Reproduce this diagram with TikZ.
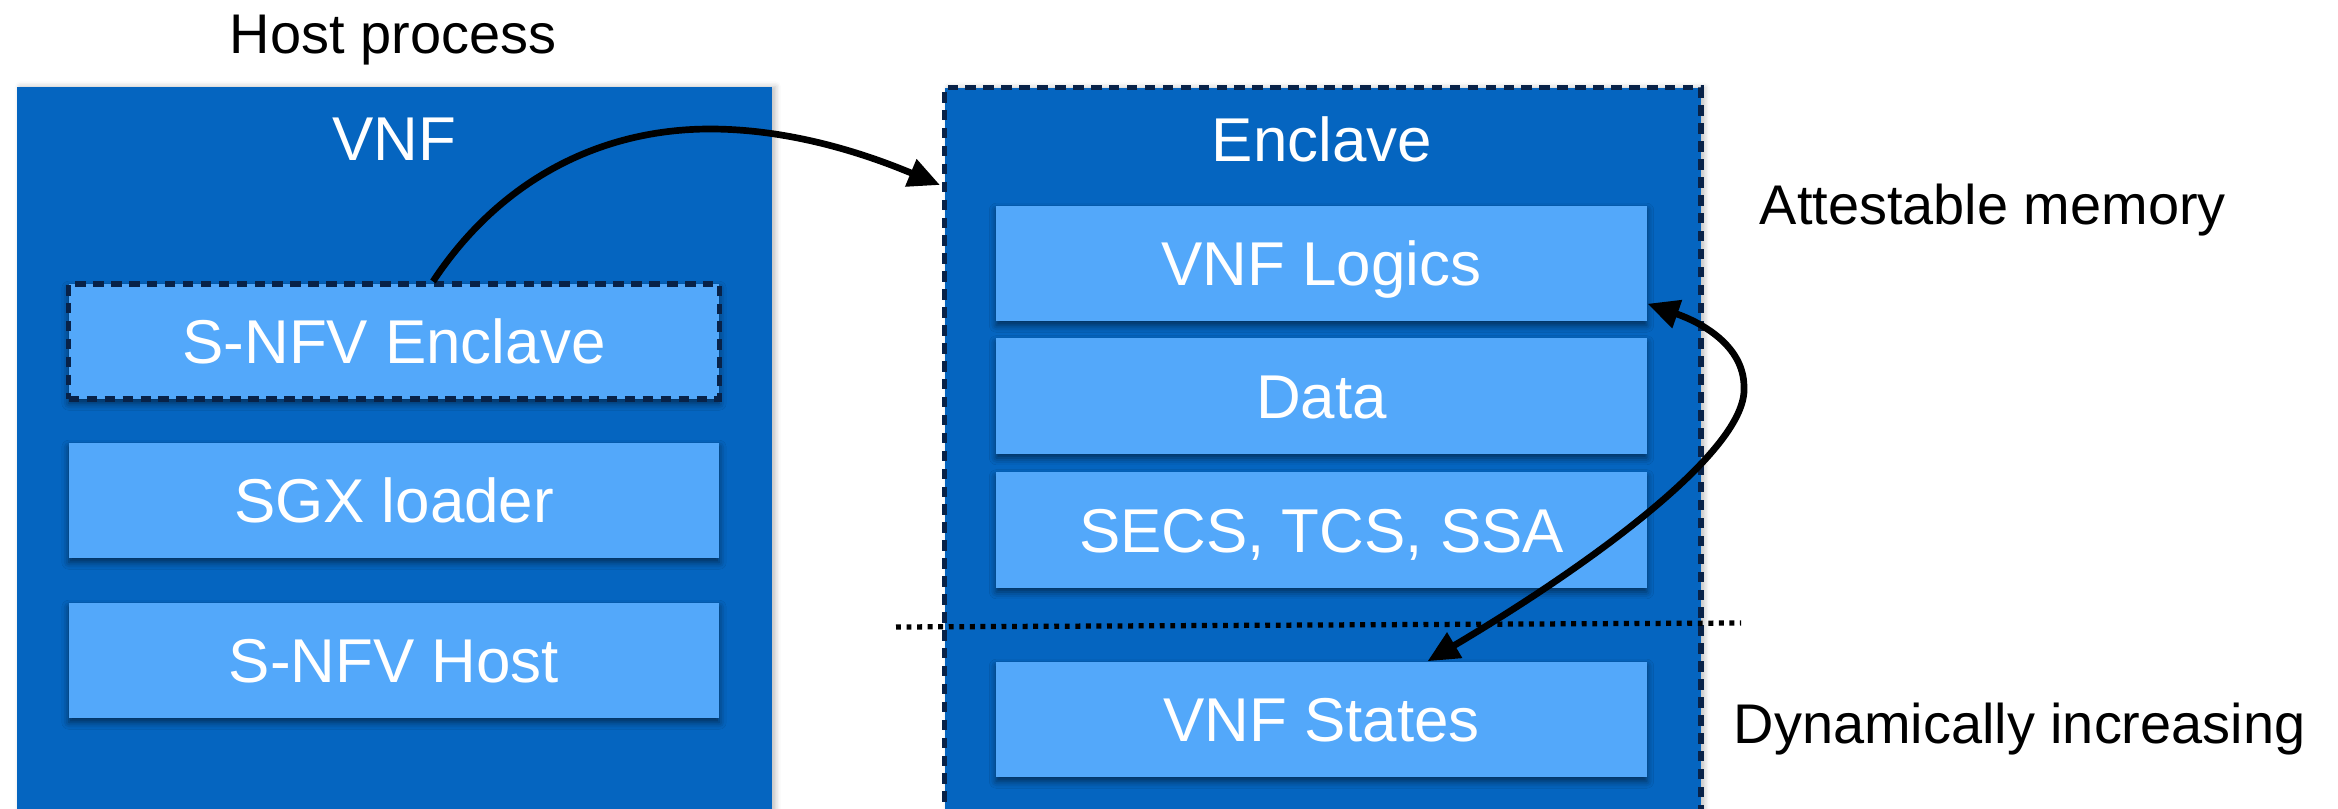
\documentclass[tikz,border=0pt]{standalone}
\usepackage{fontspec}
\setmainfont{Liberation Sans}
\usetikzlibrary{arrows.meta,shadows.blur,calc}

\definecolor{outerblue}{RGB}{5,101,192}
\definecolor{innerblue}{RGB}{83,168,250}
\definecolor{navy}{RGB}{8,34,72}

\begin{document}
\begin{tikzpicture}[x=0.01cm,y=-0.01cm,
  panel/.style={fill=outerblue, inner sep=0pt, anchor=north west,
    blur shadow={shadow xshift=1pt, shadow yshift=0pt, shadow blur radius=1.5pt, shadow opacity=25}},
  enclaveborder/.style={draw=navy, line width=1.45pt, dash pattern=on 3pt off 2.1pt},
  layer/.style={fill=innerblue, text=white, inner sep=0pt,
    minimum width=6.5cm, minimum height=1.15cm,
    font=\fontsize{17.6}{20}\selectfont, text height=12.6pt, text depth=0pt,
    blur shadow={shadow xshift=0pt, shadow yshift=-1.2pt, shadow blur radius=2pt, shadow opacity=55}},
  paneltitle/.style={text=white, inner sep=0pt, anchor=base, font=\fontsize{17.6}{20}\selectfont},
  sidelabel/.style={text=black, inner sep=0pt, font=\fontsize{15.9}{19}\selectfont},
  tip/.style={Triangle[length=9pt,width=8pt]},
  conn/.style={draw=black, line width=1.9pt, -{Triangle[length=9pt,width=8pt]}},
  boundary/.style={draw=black, line width=1.5pt, dash pattern=on 1.4pt off 1.6pt}
]
\useasboundingbox (0,0) rectangle (2338,809);
\clip (0,0) rectangle (2338,809);

% host process panel
\node[sidelabel, anchor=base] (hostlbl) at (393,54) {Host process};
\node[panel, minimum width=7.55cm, minimum height=7.6cm] (vnf) at (16,86) {};
\node[paneltitle] (vnftitle) at (394,160) {VNF};
\node[layer, enclaveborder] (snfve) at (394,341.5) {S-NFV Enclave};
\node[layer] (sgx) at (394,500.5) {SGX loader};
\node[layer] (snfvh) at (394,660.5) {S-NFV Host};

% enclave panel
\node[panel, enclaveborder, minimum width=7.56cm, minimum height=7.6cm] (encl) at (942,85) {};
\node[paneltitle] (encltitle) at (1322,161) {Enclave};
\node[layer] (logics) at (1321.5,263.5) {VNF Logics};
\node[layer] (data) at (1321.5,396) {Data};
\node[layer] (secs) at (1321.5,530) {SECS, TCS, SSA};
\node[layer] (states) at (1321.5,719.5) {VNF States};

% memory regions
\node[sidelabel, anchor=base west] (attest) at (1759,224) {Attestable memory};
\node[sidelabel, anchor=base west] (dyn) at (1733,743) {Dynamically increasing};
\coordinate (bl) at (896,627);
\coordinate (br) at (1741,623);
\draw[boundary] (bl) -- (br);

% connectors
\coordinate (snfvout) at ($(snfve.north)+(39,0)$);
\coordinate (enclin) at ($(encl.north west)+(-2,100)$);
\draw[conn] (snfvout) .. controls (500,180) and (600,129) .. (710,129)
  .. controls (800,129) and (880,160) .. (enclin);

\coordinate (logicsin) at ($(logics.south east)+(0,-18)$);
\coordinate (statesin) at ($(states.north)+(106,0)$);
\draw[conn, {Triangle[length=9pt,width=8pt]}-{Triangle[length=9pt,width=8pt]}]
  (logicsin) .. controls (1700,322) and (1744,345) .. (1744,387)
  .. controls (1748,450) and (1590,565) .. (statesin);
\end{tikzpicture}
\end{document}
